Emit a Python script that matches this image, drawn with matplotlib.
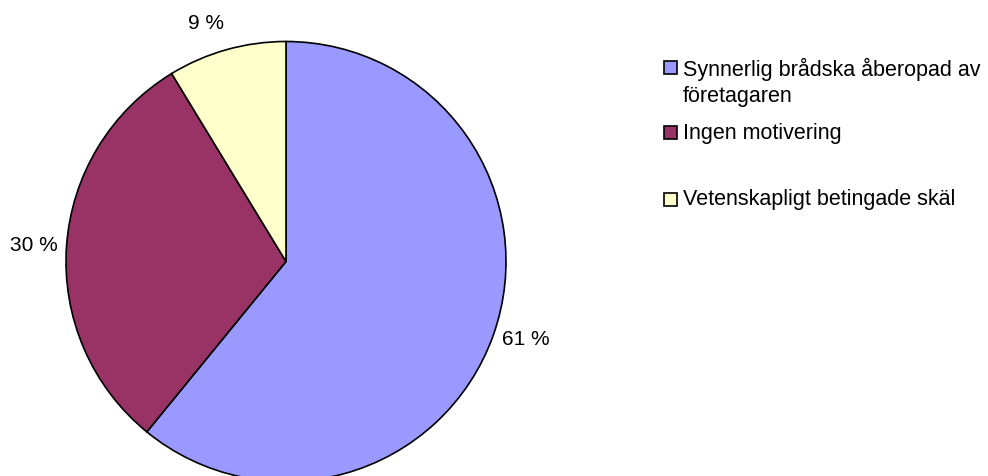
import matplotlib as mpl
mpl.use('Agg')
import matplotlib.pyplot as plt
from matplotlib.patches import Rectangle
import numpy as np

plt.rcParams['font.family'] = ['Liberation Sans', 'DejaVu Sans']

# data
labels = ["Synnerlig brådska åberopad av\nföretagaren", "Ingen motivering", "Vetenskapligt betingade skäl"]
shares = [60.9, 30.4, 8.7]
colors = ["#9999FF", "#993366", "#FFFFCC"]

W, H = 988, 477
fig = plt.figure(figsize=(W / 100, H / 100), dpi=100)

# pie axes: centre (286, 262) px, radius 220 px
cx, cy, r = 286, 262.5, 220
ax = fig.add_axes([(cx - r) / W, (H - cy - r) / H, 2 * r / W, 2 * r / H])
wedges, texts = ax.pie(shares, colors=colors, startangle=90, counterclock=False,
                       wedgeprops=dict(edgecolor='black', linewidth=1.2))
for w in wedges:
    w.set_clip_on(False)
ax.set_xlim(-1, 1)
ax.set_ylim(-1, 1)
ax.set_aspect('auto')

# percentage labels outside the wedges (small nudges like Excel's placement)
nudges = [(2, 8), (0, 0), (-12, -5)]
for w, s, (nx, ny) in zip(wedges, shares, nudges):
    mid = np.deg2rad((w.theta1 + w.theta2) / 2)
    ax.annotate(f"{round(s)} %", (1.15 * np.cos(mid), 1.15 * np.sin(mid)),
                xytext=(nx, ny), textcoords='offset pixels',
                ha='center', va='center', fontsize=15, annotation_clip=False)

# legend drawn by hand
ys = [82.5, 133, 200]
sq = 13
for lab, col, y in zip(labels, colors, ys):
    ysq = 68 if '\n' in lab else y
    fig.patches.append(Rectangle((664 / W, (H - ysq - sq / 2) / H), sq / W, sq / H,
                                 transform=fig.transFigure, facecolor=col,
                                 edgecolor='black', linewidth=1.2))
    fig.text(683 / W, (H - y) / H, lab, ha='left', va='center',
             fontsize=15.5, linespacing=1.3)

plt.savefig("out.png", dpi=100)
